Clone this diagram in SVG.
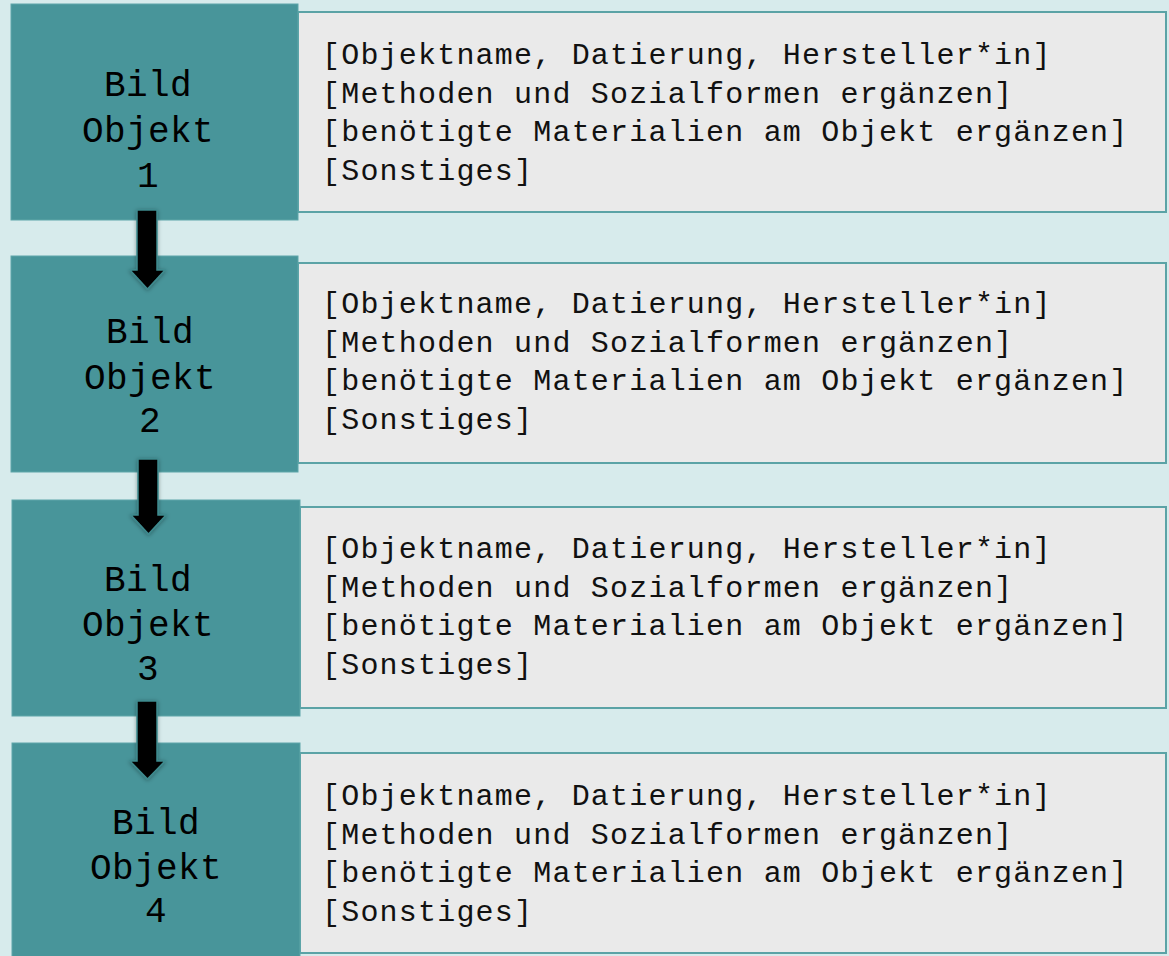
<svg xmlns="http://www.w3.org/2000/svg" width="1169" height="956" viewBox="0 0 1169 956">
<defs>
<style>
.bg{fill:#D7EBEC}
.img{fill:#48959A;stroke:#5FA6A9;stroke-width:1}
.desc{fill:#EAEAEA;stroke:#5BA3A6;stroke-width:2}
.lbl{font-family:"Liberation Mono","DejaVu Sans Mono",monospace;font-size:36px;fill:#000;text-anchor:middle;letter-spacing:0.4px}
.txt{font-family:"Liberation Mono","DejaVu Sans Mono",monospace;font-size:30px;fill:#111;letter-spacing:1.2px}
.arr{fill:#000;stroke:#3E8A8E;stroke-width:1.5;stroke-linejoin:miter}
</style>
<filter id="sh" x="-50%" y="-20%" width="200%" height="140%">
<feDropShadow dx="0" dy="1" stdDeviation="2" flood-color="#000" flood-opacity="0.35"/>
</filter>
</defs>
<rect class="bg" x="0" y="0" width="1169" height="956"/>

<g id="node1">
<rect class="desc" x="298" y="12" width="868" height="200"/>
<rect class="img" x="11" y="4" width="287" height="216"/>
<text class="lbl" x="148" y="96">Bild</text>
<text class="lbl" x="148" y="142">Objekt</text>
<text class="lbl" x="148" y="187">1</text>
<text class="txt" x="322" y="64">[Objektname, Datierung, Hersteller*in]</text>
<text class="txt" x="322" y="102.5">[Methoden und Sozialformen ergänzen]</text>
<text class="txt" x="322" y="141">[benötigte Materialien am Objekt ergänzen]</text>
<text class="txt" x="322" y="179.5">[Sonstiges]</text>
</g>

<g id="node2">
<rect class="desc" x="298" y="263" width="868" height="200"/>
<rect class="img" x="11" y="256" width="287" height="216"/>
<text class="lbl" x="150" y="343">Bild</text>
<text class="lbl" x="150" y="389">Objekt</text>
<text class="lbl" x="150" y="432">2</text>
<text class="txt" x="322" y="313">[Objektname, Datierung, Hersteller*in]</text>
<text class="txt" x="322" y="351.5">[Methoden und Sozialformen ergänzen]</text>
<text class="txt" x="322" y="390">[benötigte Materialien am Objekt ergänzen]</text>
<text class="txt" x="322" y="428.5">[Sonstiges]</text>
</g>

<g id="node3">
<rect class="desc" x="300" y="507" width="866" height="201"/>
<rect class="img" x="12" y="500" width="288" height="216"/>
<text class="lbl" x="148" y="591">Bild</text>
<text class="lbl" x="148" y="636">Objekt</text>
<text class="lbl" x="148" y="680">3</text>
<text class="txt" x="322" y="558">[Objektname, Datierung, Hersteller*in]</text>
<text class="txt" x="322" y="596.5">[Methoden und Sozialformen ergänzen]</text>
<text class="txt" x="322" y="635">[benötigte Materialien am Objekt ergänzen]</text>
<text class="txt" x="322" y="673.5">[Sonstiges]</text>
</g>

<g id="node4">
<rect class="desc" x="300" y="753" width="866" height="200"/>
<rect class="img" x="12" y="743" width="288" height="220"/>
<text class="lbl" x="156" y="834">Bild</text>
<text class="lbl" x="156" y="879">Objekt</text>
<text class="lbl" x="156" y="922">4</text>
<text class="txt" x="322" y="805">[Objektname, Datierung, Hersteller*in]</text>
<text class="txt" x="322" y="843.5">[Methoden und Sozialformen ergänzen]</text>
<text class="txt" x="322" y="882">[benötigte Materialien am Objekt ergänzen]</text>
<text class="txt" x="322" y="920.5">[Sonstiges]</text>
</g>

<g id="connectors" filter="url(#sh)">
<path class="arr" d="M137 210 H157 V270 H165 L147.5 289 L130 270 H137 Z"/>
<path class="arr" d="M138 459 H158 V515 H166 L148.5 534 L131 515 H138 Z"/>
<path class="arr" d="M137 701 H157 V761 H165 L147.5 779 L130 761 H137 Z"/>
</g>
</svg>
